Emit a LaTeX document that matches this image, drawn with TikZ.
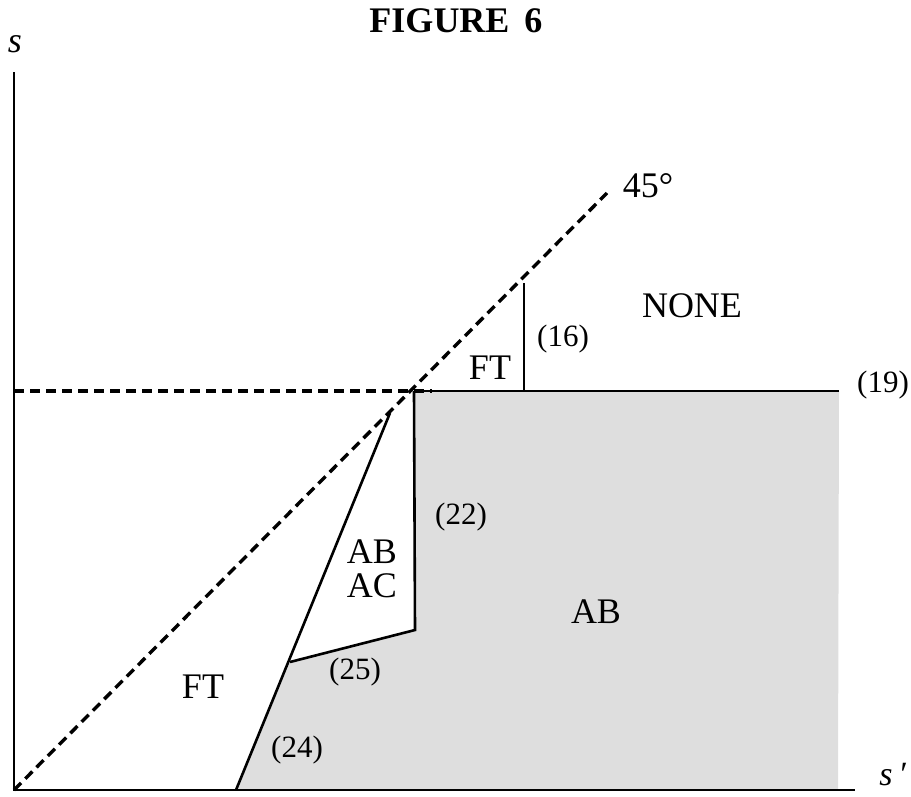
\documentclass[tikz,border=0pt]{standalone}
\usepackage{fontspec}
\setmainfont{Liberation Serif}
\begin{document}
\begin{tikzpicture}[x=1pt, y=-1pt,
  region/.style={font=\fontsize{36}{38}\selectfont, inner sep=0pt, align=center},
  eqlabel/.style={font=\fontsize{31}{33}\selectfont, inner sep=0pt},
  boundary/.style={line width=2.6pt},
  guide/.style={line width=3.4pt, dash pattern=on 10pt off 6pt}]
  \useasboundingbox (0,0) rectangle (911,796);

  % Corner points of the regions
  \coordinate (O) at (14,790);
  \coordinate (ytop) at (14,72);
  \coordinate (xend) at (855,790);
  \coordinate (diagtop) at (607,193);
  \coordinate (hleft) at (14,391);
  \coordinate (hdash) at (432,391);
  \coordinate (kink) at (414,391);
  \coordinate (right) at (839,391);
  \coordinate (vtop) at (524,283);
  \coordinate (vbot) at (524,391);
  \coordinate (low) at (415,630);
  \coordinate (corner) at (290,662);
  \coordinate (foot) at (236,790);
  \coordinate (tip) at (390,413);

  % Shaded AB region
  \fill [black!13] (foot) -- (corner) -- (low) -- (kink) -- (right) -- (838,790) -- cycle;

  % Axes
  \draw [boundary] (ytop) -- (O) -- (xend);

  % 45 degree line and level of (19)
  \draw [guide] (O) -- (diagtop);
  \draw [guide] (hleft) -- (hdash);

  % Boundaries
  \draw [boundary] (kink) -- (right);
  \draw [boundary] (vtop) -- (vbot);
  \draw [boundary, line join=miter] (kink) -- (low) -- (corner);
  \draw [boundary] (foot) -- (tip);

  % Title and axis labels
  \node [font=\fontsize{36}{38}\selectfont\bfseries, anchor=base, inner sep=0pt] (title) at (456,32) {FIGURE\, 6};
  \node [region, font=\fontsize{36}{38}\selectfont\itshape] (ylab) at (15,44) {s};
  \node [region, font=\fontsize{34}{36}\selectfont\itshape, anchor=base east] (xlab) at (906,785) {s\,\char"2032};
  \node [region] (deg) at (648,186) {45°};

  % Region labels
  \node [region] (none) at (692,306) {NONE};
  \node [region] (fttop) at (490,368) {FT};
  \node [region] (abac) at (372,569) {AB\\[-4pt]AC};
  \node [region] (ab) at (596,612) {AB};
  \node [region] (ftlow) at (203,687) {FT};

  % Equation labels
  \node [eqlabel] (e16) at (563,339) {(16)};
  \node [eqlabel] (e19) at (883,385) {(19)};
  \node [eqlabel] (e22) at (461,517) {(22)};
  \node [eqlabel] (e25) at (355,672) {(25)};
  \node [eqlabel] (e24) at (297,750) {(24)};
\end{tikzpicture}
\end{document}
